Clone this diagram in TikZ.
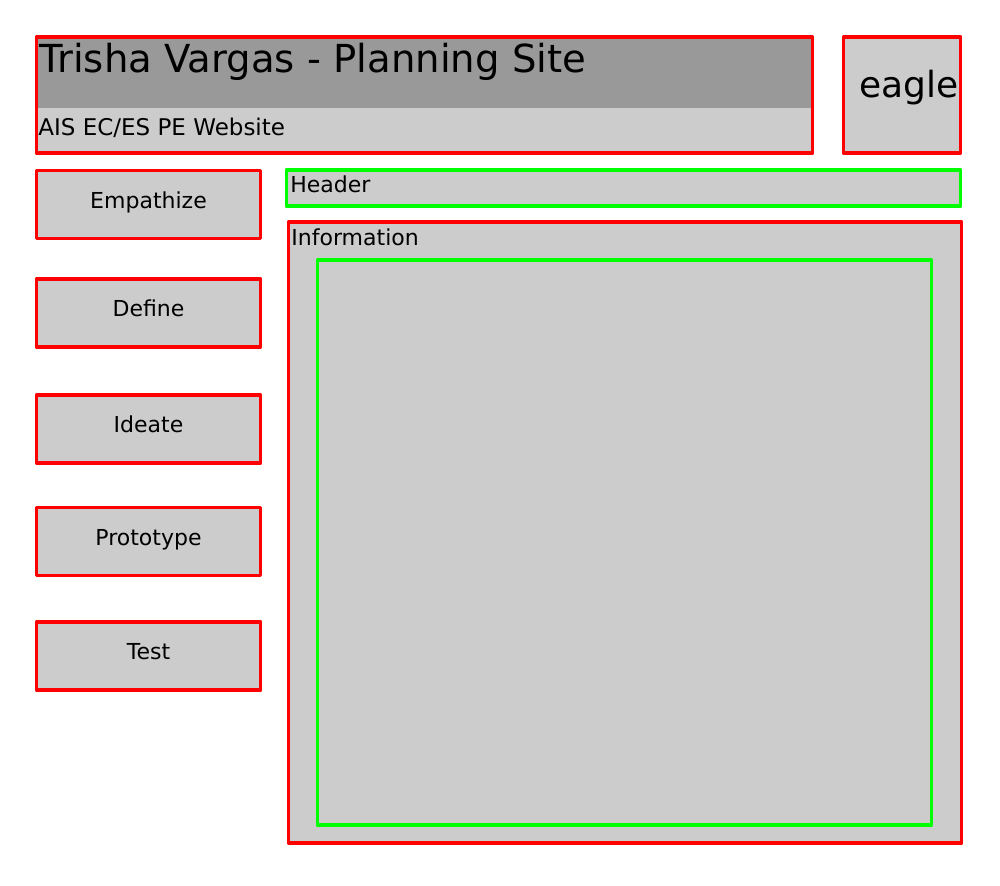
\documentclass[tikz,border=0pt]{standalone}
\usepackage{fontspec}
\setmainfont{DejaVu Sans}
\usetikzlibrary{positioning}
\definecolor{boxred}{RGB}{255,0,0}
\definecolor{boxgreen}{RGB}{0,255,0}
\definecolor{panel}{RGB}{204,204,204}
\definecolor{band}{RGB}{153,153,153}

\begin{document}
\begin{tikzpicture}[x=0.5pt,y=-0.5pt]
	\tikzstyle{box}=[draw=boxred,fill=panel,line width=1.6pt,line join=round,inner sep=0pt,outer sep=0pt]
	\tikzstyle{greenbox}=[box,draw=boxgreen]
	\tikzstyle{btn}=[box,minimum width=112pt,minimum height=34pt]
	\tikzstyle{btntext}=[anchor=base,yshift=-1.75pt,inner sep=0pt,font=\fontsize{11}{13}\selectfont]
	\tikzstyle{smalltext}=[anchor=base west,inner sep=0pt,font=\fontsize{11}{13}\selectfont]
	\tikzstyle{bigtext}=[anchor=base west,inner sep=0pt,font=\fontsize{19.3}{22}\selectfont]
	\useasboundingbox (0,0) rectangle (1000,885);

	% top bar
	\node[box,minimum width=388pt,minimum height=58pt,
		path picture={\fill[band] (path picture bounding box.north west) rectangle ([yshift=-35.5pt]path picture bounding box.north east);}]
		(titlebar) at (424.5,95) {};
	\node[bigtext](titletext) at (39,72.5) {Trisha Vargas - Planning Site};
	\node[smalltext,font=\fontsize{11.5}{13}\selectfont](subtitle) at (38,135) {AIS EC/ES PE Website};
	\node[box,minimum width=58.5pt,minimum height=58pt](logo) at (902,95) {};
	\node[bigtext,font=\fontsize{18}{22}\selectfont](logotext) at (859,97) {eagle};

	% main panels
	\node[greenbox,minimum width=337pt,minimum height=18pt](header) at (623.5,188) {};
	\node[smalltext](headertext) at (290,192) {Header};
	\node[box,minimum width=336.5pt,minimum height=310.5pt](info) at (625,532.5) {};
	\node[smalltext](infotext) at (291,245) {Information};
	\node[greenbox,minimum width=307pt,minimum height=282.5pt](content) at (624.5,542.5) {};

	% menu buttons
	\node[btn](b1) at (148.5,204.5) {};
	\node[btn](b2) at (148.5,313) {};
	\node[btn](b3) at (148.5,429) {};
	\node[btn](b4) at (148.5,541.5) {};
	\node[btn](b5) at (148.5,656) {};
	\node[btntext](t1) at (b1.center) {Empathize};
	\node[btntext](t2) at (b2.center) {Define};
	\node[btntext](t3) at (b3.center) {Ideate};
	\node[btntext](t4) at (b4.center) {Prototype};
	\node[btntext](t5) at (b5.center) {Test};
\end{tikzpicture}
\end{document}
